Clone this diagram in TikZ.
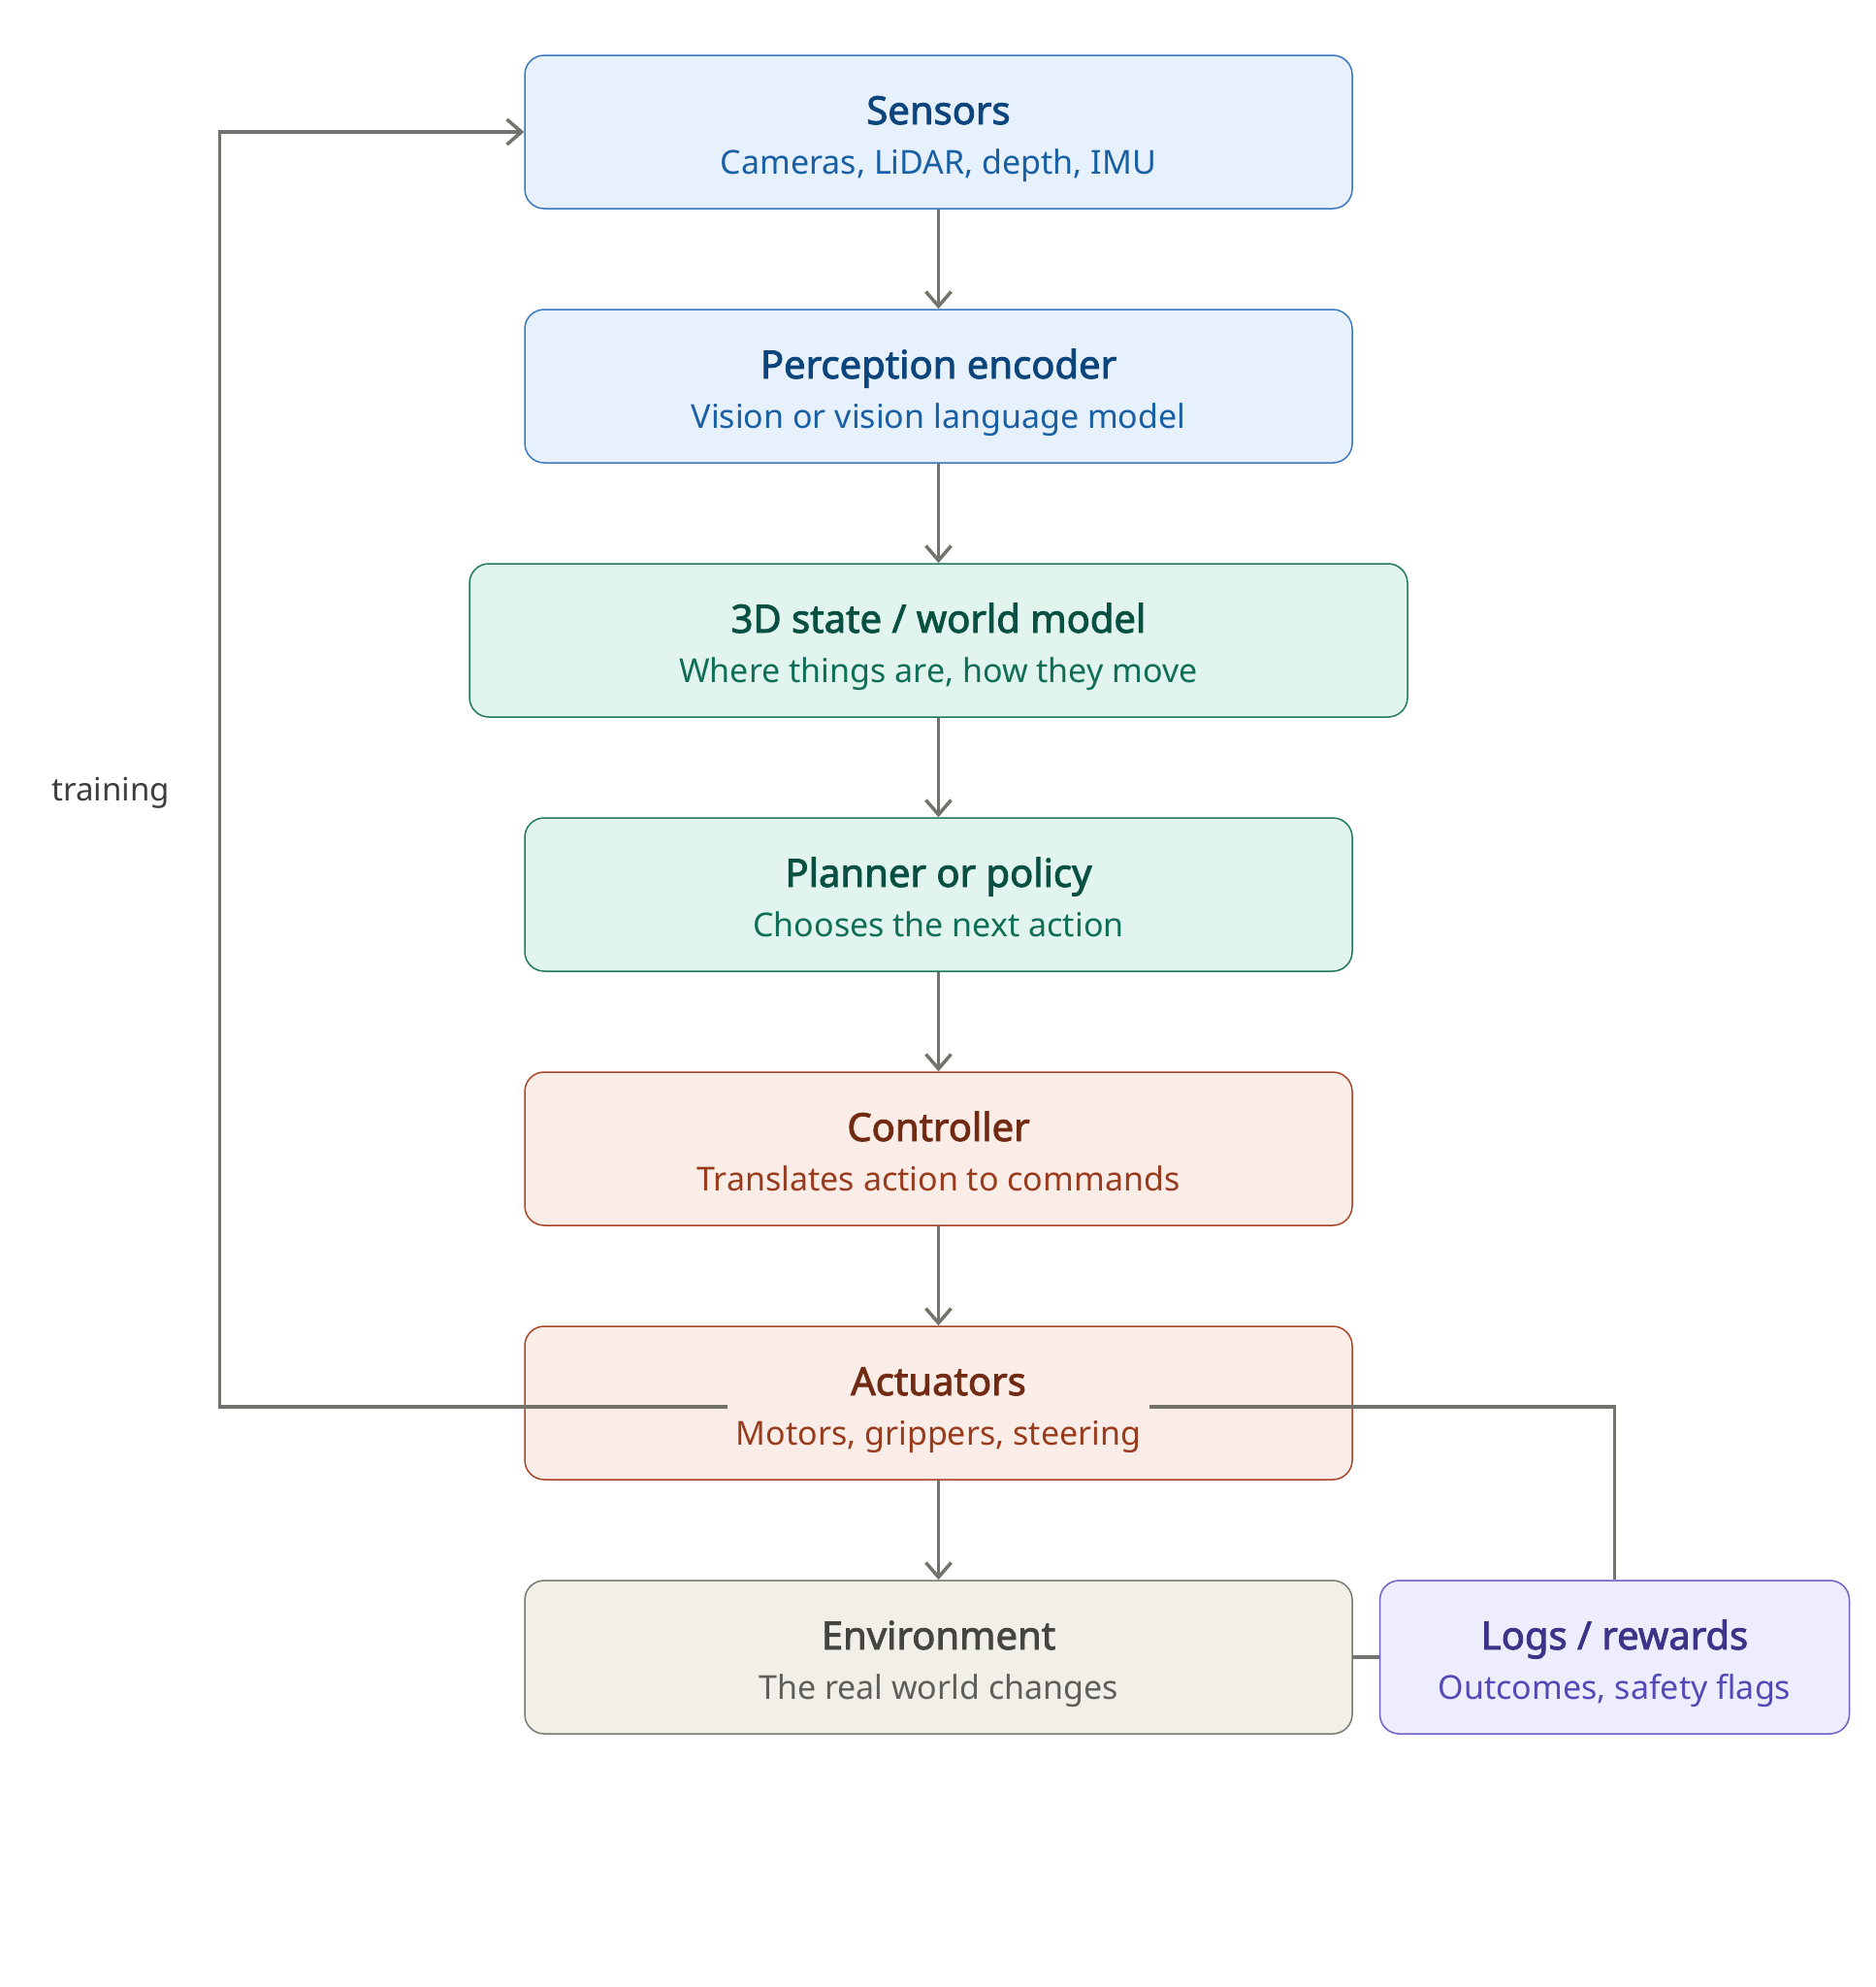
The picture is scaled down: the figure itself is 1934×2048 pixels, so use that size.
\documentclass[tikz,border=0pt]{standalone}
\usepackage{fontspec}
\setmainfont{Noto Sans}
\newfontfamily\ttlfont{Noto Sans}[FakeBold=2.2]
\usepackage{xcolor}
\usetikzlibrary{arrows.meta,positioning}
\definecolor{bluefill}{HTML}{E6F1FB}
\definecolor{blueline}{HTML}{3B78BF}
\definecolor{bluettl}{HTML}{0C447C}
\definecolor{bluesub}{HTML}{185FA5}
\definecolor{greenfill}{HTML}{E1F5EE}
\definecolor{greenline}{HTML}{1F7A5A}
\definecolor{greenttl}{HTML}{085041}
\definecolor{greensub}{HTML}{0F6E56}
\definecolor{coralfill}{HTML}{FAECE7}
\definecolor{coralline}{HTML}{A8452A}
\definecolor{coralttl}{HTML}{712B13}
\definecolor{coralsub}{HTML}{993C1D}
\definecolor{grayfill}{HTML}{F1EFE8}
\definecolor{grayline}{HTML}{7A7872}
\definecolor{grayttl}{HTML}{444441}
\definecolor{graysub}{HTML}{5F5E5A}
\definecolor{purpfill}{HTML}{EEEDFE}
\definecolor{purpline}{HTML}{6A62C8}
\definecolor{purpttl}{HTML}{3C3489}
\definecolor{purpsub}{HTML}{534AB7}
\definecolor{wire}{HTML}{73726C}
\definecolor{note}{HTML}{3D3D3A}
\newcommand{\ttl}[2]{{\color{#1}\fontsize{40}{51}\ttlfont\rule{0pt}{45pt}#2}}
\newcommand{\subt}[1]{{#1\rule[-10pt]{0pt}{10pt}}}

\begin{document}
\begin{tikzpicture}[
  x=1pt, y=-1pt,
  node distance=102.5pt,
  box/.style={draw, rounded corners=20pt, line width=1.5pt,
    minimum width=853pt, minimum height=158pt, align=center, inner sep=0pt,
    font=\fontsize{34}{51}\selectfont},
  bluebox/.style={box, fill=bluefill, draw=blueline, text=bluesub},
  greenbox/.style={box, fill=greenfill, draw=greenline, text=greensub},
  coralbox/.style={box, fill=coralfill, draw=coralline, text=coralsub},
  graybox/.style={box, fill=grayfill, draw=grayline, text=graysub},
  purpbox/.style={box, fill=purpfill, draw=purpline, text=purpsub},
  arrow/.style={-{Straight Barb[length=15pt, width=26pt, line width=3.5pt]}, line width=3.5pt, draw=wire},
  wireline/.style={line width=3.5pt, draw=wire}
]
\useasboundingbox (0,0) rectangle (1934,2048);

\node[bluebox] (sens) at (967.5,136) {\ttl{bluettl}{Sensors}\\\subt{Cameras, LiDAR, depth, IMU}};
\node[bluebox, below=of sens] (perc) {\ttl{bluettl}{Perception encoder}\\\subt{Vision or vision language model}};
\node[greenbox, minimum width=967pt, below=of perc] (world) {\ttl{greenttl}{3D state / world model}\\\subt{Where things are, how they move}};
\node[greenbox, below=of world] (plan) {\ttl{greenttl}{Planner or policy}\\\subt{Chooses the next action}};
\node[coralbox, below=of plan] (ctrl) {\ttl{coralttl}{Controller}\\\subt{Translates action to commands}};
\node[coralbox, below=of ctrl] (act) {\ttl{coralttl}{Actuators}\\\subt{Motors, grippers, steering}};
\node[graybox, below=of act] (env) {\ttl{grayttl}{Environment}\\\subt{The real world changes}};
\node[purpbox, minimum width=484pt, right=27pt of env] (logs) {\ttl{purpttl}{Logs / rewards}\\\subt{Outcomes, safety flags}};

\node[text=note, font=\fontsize{33}{40}\selectfont] (train) at (114,817) {training};

% free ends beside the actuator caption
\coordinate (trainA) at (750,1450);
\coordinate (logA) at (1185,1450);

\draw[arrow] (sens) -- (perc);
\draw[arrow] (perc) -- (world);
\draw[arrow] (world) -- (plan);
\draw[arrow] (plan) -- (ctrl);
\draw[arrow] (ctrl) -- (act);
\draw[arrow] (act) -- (env);
\draw[arrow] (trainA) -| ([xshift=-314pt]sens.west) -- (sens.west);
\draw[wireline] (logA) -| (logs.north);
\draw[wireline] (env.east) -- (logs.west);
\end{tikzpicture}
\end{document}
